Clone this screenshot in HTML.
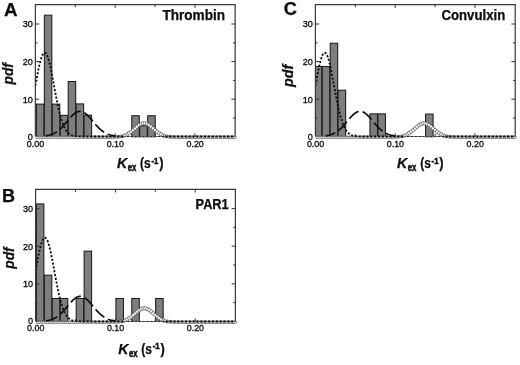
<!DOCTYPE html>
<html><head><meta charset="utf-8"><title>pdf of Kex</title>
<style>
html,body{margin:0;padding:0;background:#fff}
svg{display:block}
text{font-family:"Liberation Sans",sans-serif;fill:#0a0a0a;stroke:#0a0a0a;stroke-width:0.25}
.tk{font-size:9.6px;fill:#111;stroke:#111;stroke-width:0.35}
.b{font-weight:bold}
.bi{font-weight:bold;font-style:italic}
.bar{fill:#7e7e7e;stroke:#161616;stroke-width:1}
.fr{fill:none;stroke:#383838;stroke-width:1.2}
.t{stroke:#333;stroke-width:1;fill:none}
.dot{fill:none;stroke:#0c0c0c;stroke-width:1.8;stroke-dasharray:2.1 1.75}
.dash{fill:none;stroke:#0c0c0c;stroke-width:1.7;stroke-dasharray:12 4}
.c{fill:#fff;stroke:#333;stroke-width:0.55}
</style></head><body>
<svg width="520" height="365" viewBox="0 0 520 365">
<rect width="520" height="365" fill="#fff"/>
<filter id="soft" x="0" y="0" width="520" height="365" filterUnits="userSpaceOnUse"><feGaussianBlur stdDeviation="0.38"/></filter>
<g filter="url(#soft)">
<g>
<clipPath id="clipA"><rect x="35.35" y="4.60" width="201.80" height="136.20"/></clipPath>
<g clip-path="url(#clipA)">
<rect class="bar" x="36.40" y="104.09" width="7.5" height="32.71"/>
<rect class="bar" x="44.35" y="15.16" width="7.5" height="121.64"/>
<rect class="bar" x="52.30" y="104.09" width="7.5" height="32.71"/>
<rect class="bar" x="60.25" y="115.29" width="7.5" height="21.51"/>
<rect class="bar" x="68.20" y="81.53" width="7.5" height="55.27"/>
<rect class="bar" x="76.15" y="103.90" width="7.5" height="32.90"/>
<rect class="bar" x="84.10" y="115.18" width="7.5" height="21.62"/>
<rect class="bar" x="131.80" y="115.74" width="7.5" height="21.06"/>
<rect class="bar" x="139.75" y="125.75" width="7.5" height="11.05"/>
<rect class="bar" x="147.70" y="115.74" width="7.5" height="21.06"/>
<circle class="c" cx="35.35" cy="137.20" r="1.40"/><circle class="c" cx="37.34" cy="137.20" r="1.40"/><circle class="c" cx="39.34" cy="137.20" r="1.40"/><circle class="c" cx="41.34" cy="137.20" r="1.40"/><circle class="c" cx="43.33" cy="137.20" r="1.40"/><circle class="c" cx="45.33" cy="137.20" r="1.40"/><circle class="c" cx="47.32" cy="137.20" r="1.40"/><circle class="c" cx="49.32" cy="137.20" r="1.40"/><circle class="c" cx="51.31" cy="137.20" r="1.40"/><circle class="c" cx="53.30" cy="137.20" r="1.40"/><circle class="c" cx="55.30" cy="137.20" r="1.40"/><circle class="c" cx="57.30" cy="137.20" r="1.40"/><circle class="c" cx="59.29" cy="137.20" r="1.40"/><circle class="c" cx="61.29" cy="137.20" r="1.40"/><circle class="c" cx="63.28" cy="137.20" r="1.40"/><circle class="c" cx="65.28" cy="137.20" r="1.40"/><circle class="c" cx="67.27" cy="137.20" r="1.40"/><circle class="c" cx="69.27" cy="137.20" r="1.40"/><circle class="c" cx="71.26" cy="137.20" r="1.40"/><circle class="c" cx="73.25" cy="137.20" r="1.40"/><circle class="c" cx="75.25" cy="137.20" r="1.40"/><circle class="c" cx="77.25" cy="137.20" r="1.40"/><circle class="c" cx="79.24" cy="137.20" r="1.40"/><circle class="c" cx="81.24" cy="137.20" r="1.40"/><circle class="c" cx="83.23" cy="137.20" r="1.40"/><circle class="c" cx="85.22" cy="137.20" r="1.40"/><circle class="c" cx="87.22" cy="137.20" r="1.40"/><circle class="c" cx="89.22" cy="137.20" r="1.40"/><circle class="c" cx="91.21" cy="137.20" r="1.40"/><circle class="c" cx="93.20" cy="137.20" r="1.40"/><circle class="c" cx="95.20" cy="137.20" r="1.40"/><circle class="c" cx="97.19" cy="137.20" r="1.40"/><circle class="c" cx="99.19" cy="137.20" r="1.40"/><circle class="c" cx="101.19" cy="137.20" r="1.40"/><circle class="c" cx="103.18" cy="137.20" r="1.40"/><circle class="c" cx="105.18" cy="137.20" r="1.40"/><circle class="c" cx="107.17" cy="137.19" r="1.40"/><circle class="c" cx="109.16" cy="137.19" r="1.40"/><circle class="c" cx="111.16" cy="137.17" r="1.40"/><circle class="c" cx="113.16" cy="137.14" r="1.41"/><circle class="c" cx="115.15" cy="137.08" r="1.41"/><circle class="c" cx="117.15" cy="136.97" r="1.42"/><circle class="c" cx="119.14" cy="136.79" r="1.44"/><circle class="c" cx="121.13" cy="136.48" r="1.48"/><circle class="c" cx="123.13" cy="136.01" r="1.53"/><circle class="c" cx="125.12" cy="135.31" r="1.60"/><circle class="c" cx="127.12" cy="134.35" r="1.70"/><circle class="c" cx="129.12" cy="133.15" r="1.75"/><circle class="c" cx="131.11" cy="131.73" r="1.75"/><circle class="c" cx="133.10" cy="130.10" r="1.75"/><circle class="c" cx="135.10" cy="128.34" r="1.75"/><circle class="c" cx="137.09" cy="126.62" r="1.75"/><circle class="c" cx="139.09" cy="125.10" r="1.75"/><circle class="c" cx="141.09" cy="123.97" r="1.75"/><circle class="c" cx="143.08" cy="123.37" r="1.75"/><circle class="c" cx="145.08" cy="123.38" r="1.75"/><circle class="c" cx="147.07" cy="124.00" r="1.75"/><circle class="c" cx="149.07" cy="125.14" r="1.75"/><circle class="c" cx="151.06" cy="126.66" r="1.75"/><circle class="c" cx="153.06" cy="128.39" r="1.75"/><circle class="c" cx="155.05" cy="130.14" r="1.75"/><circle class="c" cx="157.04" cy="131.78" r="1.75"/><circle class="c" cx="159.04" cy="133.19" r="1.75"/><circle class="c" cx="161.03" cy="134.38" r="1.70"/><circle class="c" cx="163.03" cy="135.34" r="1.60"/><circle class="c" cx="165.03" cy="136.02" r="1.52"/><circle class="c" cx="167.02" cy="136.49" r="1.48"/><circle class="c" cx="169.02" cy="136.79" r="1.44"/><circle class="c" cx="171.01" cy="136.98" r="1.42"/><circle class="c" cx="173.00" cy="137.08" r="1.41"/><circle class="c" cx="175.00" cy="137.14" r="1.41"/><circle class="c" cx="176.99" cy="137.17" r="1.40"/><circle class="c" cx="178.99" cy="137.19" r="1.40"/><circle class="c" cx="180.98" cy="137.19" r="1.40"/><circle class="c" cx="182.98" cy="137.20" r="1.40"/><circle class="c" cx="184.97" cy="137.20" r="1.40"/><circle class="c" cx="186.97" cy="137.20" r="1.40"/><circle class="c" cx="188.97" cy="137.20" r="1.40"/><circle class="c" cx="190.96" cy="137.20" r="1.40"/><circle class="c" cx="192.96" cy="137.20" r="1.40"/><circle class="c" cx="194.95" cy="137.20" r="1.40"/><circle class="c" cx="196.94" cy="137.20" r="1.40"/><circle class="c" cx="198.94" cy="137.20" r="1.40"/><circle class="c" cx="200.94" cy="137.20" r="1.40"/><circle class="c" cx="202.93" cy="137.20" r="1.40"/><circle class="c" cx="204.92" cy="137.20" r="1.40"/><circle class="c" cx="206.92" cy="137.20" r="1.40"/><circle class="c" cx="208.91" cy="137.20" r="1.40"/><circle class="c" cx="210.91" cy="137.20" r="1.40"/><circle class="c" cx="212.91" cy="137.20" r="1.40"/><circle class="c" cx="214.90" cy="137.20" r="1.40"/><circle class="c" cx="216.90" cy="137.20" r="1.40"/><circle class="c" cx="218.89" cy="137.20" r="1.40"/><circle class="c" cx="220.88" cy="137.20" r="1.40"/><circle class="c" cx="222.88" cy="137.20" r="1.40"/><circle class="c" cx="224.88" cy="137.20" r="1.40"/><circle class="c" cx="226.87" cy="137.20" r="1.40"/><circle class="c" cx="228.86" cy="137.20" r="1.40"/><circle class="c" cx="230.86" cy="137.20" r="1.40"/><circle class="c" cx="232.85" cy="137.20" r="1.40"/><circle class="c" cx="234.85" cy="137.20" r="1.40"/>
<path d="M35.35 136.50H235.15" stroke="#7a7a7a" stroke-width="1" fill="none"/>
<polyline class="dash" stroke-dashoffset="0" points="45.72,135.82 46.52,135.70 47.32,135.56 48.12,135.39 48.92,135.21 49.71,135.00 50.51,134.76 51.31,134.50 52.11,134.20 52.91,133.87 53.70,133.50 54.50,133.09 55.30,132.64 56.10,132.16 56.90,131.63 57.69,131.05 58.49,130.43 59.29,129.77 60.09,129.07 60.89,128.32 61.68,127.54 62.48,126.71 63.28,125.85 64.08,124.97 64.88,124.05 65.67,123.12 66.47,122.17 67.27,121.22 68.07,120.27 68.87,119.32 69.66,118.39 70.46,117.48 71.26,116.61 72.06,115.78 72.86,114.99 73.65,114.27 74.45,113.61 75.25,113.02 76.05,112.51 76.85,112.08 77.64,111.75 78.44,111.50 79.24,111.36 80.04,111.31 80.84,111.36 81.63,111.50 82.43,111.75 83.23,112.08 84.03,112.51 84.83,113.02 85.62,113.61 86.42,114.27 87.22,114.99 88.02,115.78 88.82,116.61 89.61,117.48 90.41,118.39 91.21,119.32 92.01,120.27 92.81,121.22 93.60,122.17 94.40,123.12 95.20,124.05 96.00,124.97 96.80,125.85 97.59,126.71 98.39,127.54 99.19,128.32 99.99,129.07 100.79,129.77 101.58,130.43 102.38,131.05 103.18,131.63 103.98,132.16 104.78,132.64 105.57,133.09 106.37,133.50 107.17,133.87 107.97,134.20 108.77,134.50 109.56,134.76 110.36,135.00 111.16,135.21 111.96,135.39 112.76,135.56 113.55,135.70 114.35,135.82 115.15,135.93"/>
<polyline class="dot" points="35.35,85.64 36.15,81.31 36.95,77.04 37.74,72.90 38.54,68.98 39.34,65.33 40.14,62.03 40.94,59.15 41.73,56.74 42.53,54.86 43.33,53.53 44.13,52.80 44.93,52.68 45.72,53.17 46.52,54.26 47.32,55.92 48.12,58.13 48.92,60.83 49.71,63.97 50.51,67.48 51.31,71.31 52.11,75.36 52.91,79.59 53.70,83.91 54.50,88.25 55.30,92.56 56.10,96.77 56.90,100.84 57.69,104.73 58.49,108.40 59.29,111.82 60.09,114.99 60.89,117.89 61.68,120.51 62.48,122.87 63.28,124.96 64.08,126.80 64.88,128.41 65.67,129.80 66.47,130.99 67.27,132.00 68.07,132.86 68.87,133.57 69.66,134.16 70.46,134.64 71.26,135.04 72.06,135.36 72.86,135.62 73.65,135.82 74.45,135.98 75.25,136.11 76.05,136.20 76.85,136.28 77.64,136.33 78.44,136.38 79.24,136.41 80.04,136.44 80.84,136.45 81.63,136.47 82.43,136.48 83.23,136.48 84.03,136.49 84.83,136.49 85.62,136.49 86.42,136.50 87.22,136.50 88.02,136.50 88.82,136.50 89.61,136.50 90.41,136.50 91.21,136.50 92.01,136.50 92.81,136.50 93.60,136.50 94.40,136.50 95.20,136.50 96.00,136.50 96.80,136.50 97.59,136.50 98.39,136.50 99.19,136.50 99.99,136.50 100.79,136.50 101.58,136.50 102.38,136.50 103.18,136.50 103.98,136.50 104.78,136.50 105.57,136.50 106.37,136.50 107.17,136.50 107.97,136.50 108.77,136.50 109.56,136.50 110.36,136.50 111.16,136.50 111.96,136.50 112.76,136.50 113.55,136.50 114.35,136.50 115.15,136.50 115.95,136.50 116.75,136.50 117.54,136.50 118.34,136.50 119.14,136.50 119.94,136.50 120.74,136.50 121.53,136.50 122.33,136.50 123.13,136.50 123.93,136.50 124.73,136.50"/>
<polyline class="dot" style="stroke-width:1.1;stroke:#2a2a2a" stroke-dashoffset="1.6" points="124.73,136.50 125.52,136.50 126.32,136.50 127.12,136.50 127.92,136.50 128.72,136.50 129.51,136.50 130.31,136.50 131.11,136.50 131.91,136.50 132.71,136.50 133.50,136.50 134.30,136.50 135.10,136.50 135.90,136.50 136.70,136.50 137.49,136.50 138.29,136.50 139.09,136.50 139.89,136.50 140.69,136.50 141.48,136.50 142.28,136.50 143.08,136.50 143.88,136.50 144.68,136.50 145.47,136.50 146.27,136.50 147.07,136.50 147.87,136.50 148.67,136.50 149.46,136.50 150.26,136.50 151.06,136.50 151.86,136.50 152.66,136.50 153.45,136.50 154.25,136.50 155.05,136.50 155.85,136.50 156.65,136.50 157.44,136.50 158.24,136.50 159.04,136.50 159.84,136.50 160.64,136.50 161.43,136.50 162.23,136.50 163.03,136.50"/>
<polyline class="dot" stroke-dashoffset="1.4" points="163.03,136.50 163.83,136.50 164.63,136.50 165.42,136.50 166.22,136.50 167.02,136.50 167.82,136.50 168.62,136.50 169.41,136.50 170.21,136.50 171.01,136.50 171.81,136.50 172.61,136.50 173.40,136.50 174.20,136.50 175.00,136.50 175.80,136.50 176.60,136.50 177.39,136.50 178.19,136.50 178.99,136.50 179.79,136.50 180.59,136.50 181.38,136.50 182.18,136.50 182.98,136.50 183.78,136.50 184.58,136.50 185.37,136.50 186.17,136.50 186.97,136.50 187.77,136.50 188.57,136.50 189.36,136.50 190.16,136.50 190.96,136.50 191.76,136.50 192.56,136.50 193.35,136.50 194.15,136.50 194.95,136.50 195.75,136.50 196.55,136.50 197.34,136.50 198.14,136.50 198.94,136.50 199.74,136.50 200.54,136.50 201.33,136.50 202.13,136.50 202.93,136.50 203.73,136.50 204.53,136.50 205.32,136.50 206.12,136.50 206.92,136.50 207.72,136.50 208.52,136.50 209.31,136.50 210.11,136.50 210.91,136.50 211.71,136.50 212.51,136.50 213.30,136.50 214.10,136.50 214.90,136.50 215.70,136.50 216.50,136.50 217.29,136.50 218.09,136.50 218.89,136.50 219.69,136.50 220.49,136.50 221.28,136.50 222.08,136.50 222.88,136.50 223.68,136.50 224.48,136.50 225.27,136.50 226.07,136.50 226.87,136.50 227.67,136.50 228.47,136.50 229.26,136.50 230.06,136.50 230.86,136.50 231.66,136.50 232.46,136.50 233.25,136.50 234.05,136.50 234.85,136.50"/>
</g>
<path class="fr" d="M35.35 136.50V4.60H235.15V136.50"/>
<path class="t" d="M35.35 118.00h2.2M235.15 118.00h-2.2M35.35 99.20h3.8M235.15 99.20h-3.8M35.35 80.40h2.2M235.15 80.40h-2.2M35.35 61.60h3.8M235.15 61.60h-3.8M35.35 42.80h2.2M235.15 42.80h-2.2M35.35 24.00h3.8M235.15 24.00h-3.8M75.25 4.60v2.6M75.25 136.50v-2.6M115.15 4.60v3.2M115.15 136.50v-3.2M155.05 4.60v2.6M155.05 136.50v-2.6M194.95 4.60v3.2M194.95 136.50v-3.2"/>
<text class="tk" x="27.65" y="139.90" textLength="5.1" lengthAdjust="spacingAndGlyphs">0</text>
<text class="tk" x="22.65" y="102.60" textLength="10.1" lengthAdjust="spacingAndGlyphs">10</text>
<text class="tk" x="22.65" y="65.00" textLength="10.1" lengthAdjust="spacingAndGlyphs">20</text>
<text class="tk" x="22.65" y="27.40" textLength="10.1" lengthAdjust="spacingAndGlyphs">30</text>
<text class="tk" x="26.85" y="146.60" textLength="17.4" lengthAdjust="spacingAndGlyphs">0.00</text>
<text class="tk" x="106.65" y="146.60" textLength="17.4" lengthAdjust="spacingAndGlyphs">0.10</text>
<text class="tk" x="186.45" y="146.60" textLength="17.4" lengthAdjust="spacingAndGlyphs">0.20</text>
<text class="b" x="4.1" y="15.5" font-size="18.8">A</text>
<text class="b" x="162.50" y="20.20" font-size="14" textLength="62.5" lengthAdjust="spacingAndGlyphs">Thrombin</text>
<text class="bi" font-size="14.2" transform="translate(13.40 84.40) rotate(-90)" textLength="21.3" lengthAdjust="spacingAndGlyphs">pdf</text>
<text class="bi" x="117.00" y="167.70" font-size="14" textLength="10.2" lengthAdjust="spacingAndGlyphs">K</text>
<text class="b" x="127.70" y="170.80" font-size="10.2" style="stroke-width:0.5" textLength="8.6" lengthAdjust="spacingAndGlyphs">ex</text>
<text class="b" x="140.10" y="167.70" font-size="14" textLength="10.7" lengthAdjust="spacingAndGlyphs">(s</text>
<text class="b" x="151.50" y="163.50" font-size="8.2" style="stroke-width:0.5" textLength="6.9" lengthAdjust="spacingAndGlyphs">-1</text>
<text class="b" x="159.30" y="167.70" font-size="14" textLength="4.3" lengthAdjust="spacingAndGlyphs">)</text>
</g>
<g>
<clipPath id="clipB"><rect x="35.60" y="189.30" width="201.80" height="136.10"/></clipPath>
<g clip-path="url(#clipB)">
<rect class="bar" x="36.40" y="203.90" width="7.5" height="117.50"/>
<rect class="bar" x="44.35" y="275.15" width="7.5" height="46.25"/>
<rect class="bar" x="52.30" y="298.46" width="7.5" height="22.94"/>
<rect class="bar" x="60.25" y="298.46" width="7.5" height="22.94"/>
<rect class="bar" x="76.15" y="298.46" width="7.5" height="22.94"/>
<rect class="bar" x="84.10" y="251.09" width="7.5" height="70.31"/>
<rect class="bar" x="115.90" y="298.46" width="7.5" height="22.94"/>
<rect class="bar" x="131.80" y="298.46" width="7.5" height="22.94"/>
<rect class="bar" x="155.65" y="298.46" width="7.5" height="22.94"/>
<circle class="c" cx="35.60" cy="322.20" r="1.40"/><circle class="c" cx="37.59" cy="322.20" r="1.40"/><circle class="c" cx="39.59" cy="322.20" r="1.40"/><circle class="c" cx="41.59" cy="322.20" r="1.40"/><circle class="c" cx="43.58" cy="322.20" r="1.40"/><circle class="c" cx="45.58" cy="322.20" r="1.40"/><circle class="c" cx="47.57" cy="322.20" r="1.40"/><circle class="c" cx="49.57" cy="322.20" r="1.40"/><circle class="c" cx="51.56" cy="322.20" r="1.40"/><circle class="c" cx="53.55" cy="322.20" r="1.40"/><circle class="c" cx="55.55" cy="322.20" r="1.40"/><circle class="c" cx="57.55" cy="322.20" r="1.40"/><circle class="c" cx="59.54" cy="322.20" r="1.40"/><circle class="c" cx="61.54" cy="322.20" r="1.40"/><circle class="c" cx="63.53" cy="322.20" r="1.40"/><circle class="c" cx="65.53" cy="322.20" r="1.40"/><circle class="c" cx="67.52" cy="322.20" r="1.40"/><circle class="c" cx="69.52" cy="322.20" r="1.40"/><circle class="c" cx="71.51" cy="322.20" r="1.40"/><circle class="c" cx="73.50" cy="322.20" r="1.40"/><circle class="c" cx="75.50" cy="322.20" r="1.40"/><circle class="c" cx="77.50" cy="322.20" r="1.40"/><circle class="c" cx="79.49" cy="322.20" r="1.40"/><circle class="c" cx="81.49" cy="322.20" r="1.40"/><circle class="c" cx="83.48" cy="322.20" r="1.40"/><circle class="c" cx="85.47" cy="322.20" r="1.40"/><circle class="c" cx="87.47" cy="322.20" r="1.40"/><circle class="c" cx="89.47" cy="322.20" r="1.40"/><circle class="c" cx="91.46" cy="322.20" r="1.40"/><circle class="c" cx="93.45" cy="322.20" r="1.40"/><circle class="c" cx="95.45" cy="322.20" r="1.40"/><circle class="c" cx="97.44" cy="322.20" r="1.40"/><circle class="c" cx="99.44" cy="322.20" r="1.40"/><circle class="c" cx="101.44" cy="322.20" r="1.40"/><circle class="c" cx="103.43" cy="322.20" r="1.40"/><circle class="c" cx="105.43" cy="322.20" r="1.40"/><circle class="c" cx="107.42" cy="322.19" r="1.40"/><circle class="c" cx="109.41" cy="322.19" r="1.40"/><circle class="c" cx="111.41" cy="322.17" r="1.40"/><circle class="c" cx="113.41" cy="322.14" r="1.41"/><circle class="c" cx="115.40" cy="322.08" r="1.41"/><circle class="c" cx="117.40" cy="321.97" r="1.42"/><circle class="c" cx="119.39" cy="321.79" r="1.44"/><circle class="c" cx="121.38" cy="321.48" r="1.48"/><circle class="c" cx="123.38" cy="321.01" r="1.53"/><circle class="c" cx="125.38" cy="320.31" r="1.60"/><circle class="c" cx="127.37" cy="319.35" r="1.70"/><circle class="c" cx="129.37" cy="318.15" r="1.75"/><circle class="c" cx="131.36" cy="316.73" r="1.75"/><circle class="c" cx="133.35" cy="315.10" r="1.75"/><circle class="c" cx="135.35" cy="313.34" r="1.75"/><circle class="c" cx="137.34" cy="311.62" r="1.75"/><circle class="c" cx="139.34" cy="310.10" r="1.75"/><circle class="c" cx="141.34" cy="308.97" r="1.75"/><circle class="c" cx="143.33" cy="308.37" r="1.75"/><circle class="c" cx="145.33" cy="308.38" r="1.75"/><circle class="c" cx="147.32" cy="309.00" r="1.75"/><circle class="c" cx="149.32" cy="310.14" r="1.75"/><circle class="c" cx="151.31" cy="311.66" r="1.75"/><circle class="c" cx="153.31" cy="313.39" r="1.75"/><circle class="c" cx="155.30" cy="315.14" r="1.75"/><circle class="c" cx="157.29" cy="316.78" r="1.75"/><circle class="c" cx="159.29" cy="318.19" r="1.75"/><circle class="c" cx="161.28" cy="319.38" r="1.70"/><circle class="c" cx="163.28" cy="320.34" r="1.60"/><circle class="c" cx="165.28" cy="321.02" r="1.52"/><circle class="c" cx="167.27" cy="321.49" r="1.48"/><circle class="c" cx="169.27" cy="321.79" r="1.44"/><circle class="c" cx="171.26" cy="321.98" r="1.42"/><circle class="c" cx="173.25" cy="322.08" r="1.41"/><circle class="c" cx="175.25" cy="322.14" r="1.41"/><circle class="c" cx="177.24" cy="322.17" r="1.40"/><circle class="c" cx="179.24" cy="322.19" r="1.40"/><circle class="c" cx="181.23" cy="322.19" r="1.40"/><circle class="c" cx="183.23" cy="322.20" r="1.40"/><circle class="c" cx="185.22" cy="322.20" r="1.40"/><circle class="c" cx="187.22" cy="322.20" r="1.40"/><circle class="c" cx="189.22" cy="322.20" r="1.40"/><circle class="c" cx="191.21" cy="322.20" r="1.40"/><circle class="c" cx="193.21" cy="322.20" r="1.40"/><circle class="c" cx="195.20" cy="322.20" r="1.40"/><circle class="c" cx="197.19" cy="322.20" r="1.40"/><circle class="c" cx="199.19" cy="322.20" r="1.40"/><circle class="c" cx="201.19" cy="322.20" r="1.40"/><circle class="c" cx="203.18" cy="322.20" r="1.40"/><circle class="c" cx="205.17" cy="322.20" r="1.40"/><circle class="c" cx="207.17" cy="322.20" r="1.40"/><circle class="c" cx="209.16" cy="322.20" r="1.40"/><circle class="c" cx="211.16" cy="322.20" r="1.40"/><circle class="c" cx="213.16" cy="322.20" r="1.40"/><circle class="c" cx="215.15" cy="322.20" r="1.40"/><circle class="c" cx="217.15" cy="322.20" r="1.40"/><circle class="c" cx="219.14" cy="322.20" r="1.40"/><circle class="c" cx="221.13" cy="322.20" r="1.40"/><circle class="c" cx="223.13" cy="322.20" r="1.40"/><circle class="c" cx="225.12" cy="322.20" r="1.40"/><circle class="c" cx="227.12" cy="322.20" r="1.40"/><circle class="c" cx="229.11" cy="322.20" r="1.40"/><circle class="c" cx="231.11" cy="322.20" r="1.40"/><circle class="c" cx="233.10" cy="322.20" r="1.40"/><circle class="c" cx="235.10" cy="322.20" r="1.40"/>
<path d="M35.60 321.50H235.40" stroke="#7a7a7a" stroke-width="1" fill="none"/>
<polyline class="dash" stroke-dashoffset="0" points="45.97,320.82 46.77,320.70 47.57,320.56 48.37,320.39 49.17,320.21 49.96,320.00 50.76,319.76 51.56,319.50 52.36,319.20 53.16,318.87 53.95,318.50 54.75,318.09 55.55,317.64 56.35,317.16 57.15,316.63 57.94,316.05 58.74,315.43 59.54,314.77 60.34,314.07 61.14,313.32 61.93,312.54 62.73,311.71 63.53,310.85 64.33,309.97 65.13,309.05 65.92,308.12 66.72,307.17 67.52,306.22 68.32,305.27 69.12,304.32 69.91,303.39 70.71,302.48 71.51,301.61 72.31,300.78 73.11,299.99 73.90,299.27 74.70,298.61 75.50,298.02 76.30,297.51 77.10,297.08 77.89,296.75 78.69,296.50 79.49,296.36 80.29,296.31 81.09,296.36 81.88,296.50 82.68,296.75 83.48,297.08 84.28,297.51 85.08,298.02 85.87,298.61 86.67,299.27 87.47,299.99 88.27,300.78 89.07,301.61 89.86,302.48 90.66,303.39 91.46,304.32 92.26,305.27 93.06,306.22 93.85,307.17 94.65,308.12 95.45,309.05 96.25,309.97 97.05,310.85 97.84,311.71 98.64,312.54 99.44,313.32 100.24,314.07 101.04,314.77 101.83,315.43 102.63,316.05 103.43,316.63 104.23,317.16 105.03,317.64 105.82,318.09 106.62,318.50 107.42,318.87 108.22,319.20 109.02,319.50 109.81,319.76 110.61,320.00 111.41,320.21 112.21,320.39 113.01,320.56 113.80,320.70 114.60,320.82 115.40,320.93"/>
<polyline class="dot" points="35.60,270.64 36.40,266.31 37.20,262.04 37.99,257.90 38.79,253.98 39.59,250.33 40.39,247.03 41.19,244.15 41.98,241.74 42.78,239.86 43.58,238.53 44.38,237.80 45.18,237.68 45.97,238.17 46.77,239.26 47.57,240.92 48.37,243.13 49.17,245.83 49.96,248.97 50.76,252.48 51.56,256.31 52.36,260.36 53.16,264.59 53.95,268.91 54.75,273.25 55.55,277.56 56.35,281.77 57.15,285.84 57.94,289.73 58.74,293.40 59.54,296.82 60.34,299.99 61.14,302.89 61.93,305.51 62.73,307.87 63.53,309.96 64.33,311.80 65.13,313.41 65.92,314.80 66.72,315.99 67.52,317.00 68.32,317.86 69.12,318.57 69.91,319.16 70.71,319.64 71.51,320.04 72.31,320.36 73.11,320.62 73.90,320.82 74.70,320.98 75.50,321.11 76.30,321.20 77.10,321.28 77.89,321.33 78.69,321.38 79.49,321.41 80.29,321.44 81.09,321.45 81.88,321.47 82.68,321.48 83.48,321.48 84.28,321.49 85.08,321.49 85.87,321.49 86.67,321.50 87.47,321.50 88.27,321.50 89.07,321.50 89.86,321.50 90.66,321.50 91.46,321.50 92.26,321.50 93.06,321.50 93.85,321.50 94.65,321.50 95.45,321.50 96.25,321.50 97.05,321.50 97.84,321.50 98.64,321.50 99.44,321.50 100.24,321.50 101.04,321.50 101.83,321.50 102.63,321.50 103.43,321.50 104.23,321.50 105.03,321.50 105.82,321.50 106.62,321.50 107.42,321.50 108.22,321.50 109.02,321.50 109.81,321.50 110.61,321.50 111.41,321.50 112.21,321.50 113.01,321.50 113.80,321.50 114.60,321.50 115.40,321.50 116.20,321.50 117.00,321.50 117.79,321.50 118.59,321.50 119.39,321.50 120.19,321.50 120.99,321.50 121.78,321.50 122.58,321.50 123.38,321.50 124.18,321.50 124.98,321.50"/>
<polyline class="dot" style="stroke-width:1.1;stroke:#2a2a2a" stroke-dashoffset="1.6" points="124.98,321.50 125.77,321.50 126.57,321.50 127.37,321.50 128.17,321.50 128.97,321.50 129.76,321.50 130.56,321.50 131.36,321.50 132.16,321.50 132.96,321.50 133.75,321.50 134.55,321.50 135.35,321.50 136.15,321.50 136.95,321.50 137.74,321.50 138.54,321.50 139.34,321.50 140.14,321.50 140.94,321.50 141.73,321.50 142.53,321.50 143.33,321.50 144.13,321.50 144.93,321.50 145.72,321.50 146.52,321.50 147.32,321.50 148.12,321.50 148.92,321.50 149.71,321.50 150.51,321.50 151.31,321.50 152.11,321.50 152.91,321.50 153.70,321.50 154.50,321.50 155.30,321.50 156.10,321.50 156.90,321.50 157.69,321.50 158.49,321.50 159.29,321.50 160.09,321.50 160.89,321.50 161.68,321.50 162.48,321.50 163.28,321.50"/>
<polyline class="dot" stroke-dashoffset="1.4" points="163.28,321.50 164.08,321.50 164.88,321.50 165.67,321.50 166.47,321.50 167.27,321.50 168.07,321.50 168.87,321.50 169.66,321.50 170.46,321.50 171.26,321.50 172.06,321.50 172.86,321.50 173.65,321.50 174.45,321.50 175.25,321.50 176.05,321.50 176.85,321.50 177.64,321.50 178.44,321.50 179.24,321.50 180.04,321.50 180.84,321.50 181.63,321.50 182.43,321.50 183.23,321.50 184.03,321.50 184.83,321.50 185.62,321.50 186.42,321.50 187.22,321.50 188.02,321.50 188.82,321.50 189.61,321.50 190.41,321.50 191.21,321.50 192.01,321.50 192.81,321.50 193.60,321.50 194.40,321.50 195.20,321.50 196.00,321.50 196.80,321.50 197.59,321.50 198.39,321.50 199.19,321.50 199.99,321.50 200.79,321.50 201.58,321.50 202.38,321.50 203.18,321.50 203.98,321.50 204.78,321.50 205.57,321.50 206.37,321.50 207.17,321.50 207.97,321.50 208.77,321.50 209.56,321.50 210.36,321.50 211.16,321.50 211.96,321.50 212.76,321.50 213.55,321.50 214.35,321.50 215.15,321.50 215.95,321.50 216.75,321.50 217.54,321.50 218.34,321.50 219.14,321.50 219.94,321.50 220.74,321.50 221.53,321.50 222.33,321.50 223.13,321.50 223.93,321.50 224.73,321.50 225.52,321.50 226.32,321.50 227.12,321.50 227.92,321.50 228.72,321.50 229.51,321.50 230.31,321.50 231.11,321.50 231.91,321.50 232.71,321.50 233.50,321.50 234.30,321.50 235.10,321.50"/>
</g>
<path class="fr" d="M35.60 321.50V189.30H235.40V321.50"/>
<path class="t" d="M35.60 302.60h2.2M235.40 302.60h-2.2M35.60 283.80h3.8M235.40 283.80h-3.8M35.60 265.00h2.2M235.40 265.00h-2.2M35.60 246.20h3.8M235.40 246.20h-3.8M35.60 227.40h2.2M235.40 227.40h-2.2M35.60 208.60h3.8M235.40 208.60h-3.8M75.50 189.30v2.6M75.50 321.50v-2.6M115.40 189.30v3.2M115.40 321.50v-3.2M155.30 189.30v2.6M155.30 321.50v-2.6M195.20 189.30v3.2M195.20 321.50v-3.2"/>
<text class="tk" x="27.90" y="324.00" textLength="5.1" lengthAdjust="spacingAndGlyphs">0</text>
<text class="tk" x="22.90" y="287.20" textLength="10.1" lengthAdjust="spacingAndGlyphs">10</text>
<text class="tk" x="22.90" y="249.60" textLength="10.1" lengthAdjust="spacingAndGlyphs">20</text>
<text class="tk" x="22.90" y="212.00" textLength="10.1" lengthAdjust="spacingAndGlyphs">30</text>
<text class="tk" x="27.10" y="331.20" textLength="17.4" lengthAdjust="spacingAndGlyphs">0.00</text>
<text class="tk" x="106.90" y="331.20" textLength="17.4" lengthAdjust="spacingAndGlyphs">0.10</text>
<text class="tk" x="186.70" y="331.20" textLength="17.4" lengthAdjust="spacingAndGlyphs">0.20</text>
<text class="b" x="2.0" y="202.4" font-size="18">B</text>
<text class="b" x="195.60" y="209.00" font-size="14" textLength="33.1" lengthAdjust="spacingAndGlyphs">PAR1</text>
<text class="bi" font-size="14.2" transform="translate(13.70 268.70) rotate(-90)" textLength="21.3" lengthAdjust="spacingAndGlyphs">pdf</text>
<text class="bi" x="118.25" y="353.50" font-size="14" textLength="10.2" lengthAdjust="spacingAndGlyphs">K</text>
<text class="b" x="128.95" y="356.60" font-size="10.2" style="stroke-width:0.5" textLength="8.6" lengthAdjust="spacingAndGlyphs">ex</text>
<text class="b" x="141.35" y="353.50" font-size="14" textLength="10.7" lengthAdjust="spacingAndGlyphs">(s</text>
<text class="b" x="152.75" y="349.30" font-size="8.2" style="stroke-width:0.5" textLength="6.9" lengthAdjust="spacingAndGlyphs">-1</text>
<text class="b" x="160.55" y="353.50" font-size="14" textLength="4.3" lengthAdjust="spacingAndGlyphs">)</text>
</g>
<g>
<clipPath id="clipC"><rect x="315.40" y="4.70" width="201.80" height="136.10"/></clipPath>
<g clip-path="url(#clipC)">
<rect class="bar" x="314.30" y="66.49" width="7.5" height="70.31"/>
<rect class="bar" x="322.25" y="66.49" width="7.5" height="70.31"/>
<rect class="bar" x="330.20" y="43.18" width="7.5" height="93.62"/>
<rect class="bar" x="338.15" y="90.18" width="7.5" height="46.62"/>
<rect class="bar" x="369.95" y="113.86" width="7.5" height="22.94"/>
<rect class="bar" x="377.90" y="113.86" width="7.5" height="22.94"/>
<rect class="bar" x="425.60" y="114.05" width="7.5" height="22.75"/>
<circle class="c" cx="315.40" cy="137.20" r="1.40"/><circle class="c" cx="317.39" cy="137.20" r="1.40"/><circle class="c" cx="319.39" cy="137.20" r="1.40"/><circle class="c" cx="321.38" cy="137.20" r="1.40"/><circle class="c" cx="323.38" cy="137.20" r="1.40"/><circle class="c" cx="325.38" cy="137.20" r="1.40"/><circle class="c" cx="327.37" cy="137.20" r="1.40"/><circle class="c" cx="329.36" cy="137.20" r="1.40"/><circle class="c" cx="331.36" cy="137.20" r="1.40"/><circle class="c" cx="333.35" cy="137.20" r="1.40"/><circle class="c" cx="335.35" cy="137.20" r="1.40"/><circle class="c" cx="337.34" cy="137.20" r="1.40"/><circle class="c" cx="339.34" cy="137.20" r="1.40"/><circle class="c" cx="341.33" cy="137.20" r="1.40"/><circle class="c" cx="343.33" cy="137.20" r="1.40"/><circle class="c" cx="345.32" cy="137.20" r="1.40"/><circle class="c" cx="347.32" cy="137.20" r="1.40"/><circle class="c" cx="349.31" cy="137.20" r="1.40"/><circle class="c" cx="351.31" cy="137.20" r="1.40"/><circle class="c" cx="353.30" cy="137.20" r="1.40"/><circle class="c" cx="355.30" cy="137.20" r="1.40"/><circle class="c" cx="357.29" cy="137.20" r="1.40"/><circle class="c" cx="359.29" cy="137.20" r="1.40"/><circle class="c" cx="361.28" cy="137.20" r="1.40"/><circle class="c" cx="363.28" cy="137.20" r="1.40"/><circle class="c" cx="365.27" cy="137.20" r="1.40"/><circle class="c" cx="367.27" cy="137.20" r="1.40"/><circle class="c" cx="369.26" cy="137.20" r="1.40"/><circle class="c" cx="371.26" cy="137.20" r="1.40"/><circle class="c" cx="373.25" cy="137.20" r="1.40"/><circle class="c" cx="375.25" cy="137.20" r="1.40"/><circle class="c" cx="377.25" cy="137.20" r="1.40"/><circle class="c" cx="379.24" cy="137.20" r="1.40"/><circle class="c" cx="381.24" cy="137.20" r="1.40"/><circle class="c" cx="383.23" cy="137.20" r="1.40"/><circle class="c" cx="385.22" cy="137.20" r="1.40"/><circle class="c" cx="387.22" cy="137.19" r="1.40"/><circle class="c" cx="389.21" cy="137.19" r="1.40"/><circle class="c" cx="391.21" cy="137.17" r="1.40"/><circle class="c" cx="393.20" cy="137.14" r="1.41"/><circle class="c" cx="395.20" cy="137.08" r="1.41"/><circle class="c" cx="397.19" cy="136.97" r="1.42"/><circle class="c" cx="399.19" cy="136.79" r="1.44"/><circle class="c" cx="401.18" cy="136.48" r="1.48"/><circle class="c" cx="403.18" cy="136.01" r="1.53"/><circle class="c" cx="405.17" cy="135.31" r="1.60"/><circle class="c" cx="407.17" cy="134.35" r="1.70"/><circle class="c" cx="409.16" cy="133.15" r="1.75"/><circle class="c" cx="411.16" cy="131.73" r="1.75"/><circle class="c" cx="413.15" cy="130.10" r="1.75"/><circle class="c" cx="415.15" cy="128.34" r="1.75"/><circle class="c" cx="417.14" cy="126.62" r="1.75"/><circle class="c" cx="419.14" cy="125.10" r="1.75"/><circle class="c" cx="421.13" cy="123.97" r="1.75"/><circle class="c" cx="423.13" cy="123.37" r="1.75"/><circle class="c" cx="425.12" cy="123.38" r="1.75"/><circle class="c" cx="427.12" cy="124.00" r="1.75"/><circle class="c" cx="429.12" cy="125.14" r="1.75"/><circle class="c" cx="431.11" cy="126.66" r="1.75"/><circle class="c" cx="433.10" cy="128.39" r="1.75"/><circle class="c" cx="435.10" cy="130.14" r="1.75"/><circle class="c" cx="437.09" cy="131.78" r="1.75"/><circle class="c" cx="439.09" cy="133.19" r="1.75"/><circle class="c" cx="441.08" cy="134.38" r="1.70"/><circle class="c" cx="443.08" cy="135.34" r="1.60"/><circle class="c" cx="445.07" cy="136.02" r="1.52"/><circle class="c" cx="447.07" cy="136.49" r="1.48"/><circle class="c" cx="449.06" cy="136.79" r="1.44"/><circle class="c" cx="451.06" cy="136.98" r="1.42"/><circle class="c" cx="453.05" cy="137.08" r="1.41"/><circle class="c" cx="455.05" cy="137.14" r="1.41"/><circle class="c" cx="457.04" cy="137.17" r="1.40"/><circle class="c" cx="459.04" cy="137.19" r="1.40"/><circle class="c" cx="461.03" cy="137.19" r="1.40"/><circle class="c" cx="463.03" cy="137.20" r="1.40"/><circle class="c" cx="465.02" cy="137.20" r="1.40"/><circle class="c" cx="467.02" cy="137.20" r="1.40"/><circle class="c" cx="469.01" cy="137.20" r="1.40"/><circle class="c" cx="471.01" cy="137.20" r="1.40"/><circle class="c" cx="473.00" cy="137.20" r="1.40"/><circle class="c" cx="475.00" cy="137.20" r="1.40"/><circle class="c" cx="477.00" cy="137.20" r="1.40"/><circle class="c" cx="478.99" cy="137.20" r="1.40"/><circle class="c" cx="480.99" cy="137.20" r="1.40"/><circle class="c" cx="482.98" cy="137.20" r="1.40"/><circle class="c" cx="484.97" cy="137.20" r="1.40"/><circle class="c" cx="486.97" cy="137.20" r="1.40"/><circle class="c" cx="488.96" cy="137.20" r="1.40"/><circle class="c" cx="490.96" cy="137.20" r="1.40"/><circle class="c" cx="492.95" cy="137.20" r="1.40"/><circle class="c" cx="494.95" cy="137.20" r="1.40"/><circle class="c" cx="496.94" cy="137.20" r="1.40"/><circle class="c" cx="498.94" cy="137.20" r="1.40"/><circle class="c" cx="500.93" cy="137.20" r="1.40"/><circle class="c" cx="502.93" cy="137.20" r="1.40"/><circle class="c" cx="504.92" cy="137.20" r="1.40"/><circle class="c" cx="506.92" cy="137.20" r="1.40"/><circle class="c" cx="508.91" cy="137.20" r="1.40"/><circle class="c" cx="510.91" cy="137.20" r="1.40"/><circle class="c" cx="512.90" cy="137.20" r="1.40"/><circle class="c" cx="514.90" cy="137.20" r="1.40"/>
<path d="M315.40 136.50H515.20" stroke="#7a7a7a" stroke-width="1" fill="none"/>
<polyline class="dash" stroke-dashoffset="2" points="325.77,135.82 326.57,135.70 327.37,135.56 328.17,135.39 328.97,135.21 329.76,135.00 330.56,134.76 331.36,134.50 332.16,134.20 332.96,133.87 333.75,133.50 334.55,133.09 335.35,132.64 336.15,132.16 336.95,131.63 337.74,131.05 338.54,130.43 339.34,129.77 340.14,129.07 340.94,128.32 341.73,127.54 342.53,126.71 343.33,125.85 344.13,124.97 344.93,124.05 345.72,123.12 346.52,122.17 347.32,121.22 348.12,120.27 348.92,119.32 349.71,118.39 350.51,117.48 351.31,116.61 352.11,115.78 352.91,114.99 353.70,114.27 354.50,113.61 355.30,113.02 356.10,112.51 356.90,112.08 357.69,111.75 358.49,111.50 359.29,111.36 360.09,111.31 360.89,111.36 361.68,111.50 362.48,111.75 363.28,112.08 364.08,112.51 364.88,113.02 365.67,113.61 366.47,114.27 367.27,114.99 368.07,115.78 368.87,116.61 369.66,117.48 370.46,118.39 371.26,119.32 372.06,120.27 372.86,121.22 373.65,122.17 374.45,123.12 375.25,124.05 376.05,124.97 376.85,125.85 377.64,126.71 378.44,127.54 379.24,128.32 380.04,129.07 380.84,129.77 381.63,130.43 382.43,131.05 383.23,131.63 384.03,132.16 384.83,132.64 385.62,133.09 386.42,133.50 387.22,133.87 388.02,134.20 388.82,134.50 389.61,134.76 390.41,135.00 391.21,135.21 392.01,135.39 392.81,135.56 393.60,135.70 394.40,135.82 395.20,135.93"/>
<polyline class="dot" points="315.40,85.64 316.20,81.31 317.00,77.04 317.79,72.90 318.59,68.98 319.39,65.33 320.19,62.03 320.99,59.15 321.78,56.74 322.58,54.86 323.38,53.53 324.18,52.80 324.98,52.68 325.77,53.17 326.57,54.26 327.37,55.92 328.17,58.13 328.97,60.83 329.76,63.97 330.56,67.48 331.36,71.31 332.16,75.36 332.96,79.59 333.75,83.91 334.55,88.25 335.35,92.56 336.15,96.77 336.95,100.84 337.74,104.73 338.54,108.40 339.34,111.82 340.14,114.99 340.94,117.89 341.73,120.51 342.53,122.87 343.33,124.96 344.13,126.80 344.93,128.41 345.72,129.80 346.52,130.99 347.32,132.00 348.12,132.86 348.92,133.57 349.71,134.16 350.51,134.64 351.31,135.04 352.11,135.36 352.91,135.62 353.70,135.82 354.50,135.98 355.30,136.11 356.10,136.20 356.90,136.28 357.69,136.33 358.49,136.38 359.29,136.41 360.09,136.44 360.89,136.45 361.68,136.47 362.48,136.48 363.28,136.48 364.08,136.49 364.88,136.49 365.67,136.49 366.47,136.50 367.27,136.50 368.07,136.50 368.87,136.50 369.66,136.50 370.46,136.50 371.26,136.50 372.06,136.50 372.86,136.50 373.65,136.50 374.45,136.50 375.25,136.50 376.05,136.50 376.85,136.50 377.64,136.50 378.44,136.50 379.24,136.50 380.04,136.50 380.84,136.50 381.63,136.50 382.43,136.50 383.23,136.50 384.03,136.50 384.83,136.50 385.62,136.50 386.42,136.50 387.22,136.50 388.02,136.50 388.82,136.50 389.61,136.50 390.41,136.50 391.21,136.50 392.01,136.50 392.81,136.50 393.60,136.50 394.40,136.50 395.20,136.50 396.00,136.50 396.80,136.50 397.59,136.50 398.39,136.50 399.19,136.50 399.99,136.50 400.79,136.50 401.58,136.50 402.38,136.50 403.18,136.50 403.98,136.50 404.78,136.50"/>
<polyline class="dot" style="stroke-width:1.1;stroke:#2a2a2a" stroke-dashoffset="1.6" points="404.78,136.50 405.57,136.50 406.37,136.50 407.17,136.50 407.97,136.50 408.77,136.50 409.56,136.50 410.36,136.50 411.16,136.50 411.96,136.50 412.76,136.50 413.55,136.50 414.35,136.50 415.15,136.50 415.95,136.50 416.75,136.50 417.54,136.50 418.34,136.50 419.14,136.50 419.94,136.50 420.74,136.50 421.53,136.50 422.33,136.50 423.13,136.50 423.93,136.50 424.73,136.50 425.52,136.50 426.32,136.50 427.12,136.50 427.92,136.50 428.72,136.50 429.51,136.50 430.31,136.50 431.11,136.50 431.91,136.50 432.71,136.50 433.50,136.50 434.30,136.50 435.10,136.50 435.90,136.50 436.70,136.50 437.49,136.50 438.29,136.50 439.09,136.50 439.89,136.50 440.69,136.50 441.48,136.50 442.28,136.50 443.08,136.50"/>
<polyline class="dot" stroke-dashoffset="1.4" points="443.08,136.50 443.88,136.50 444.68,136.50 445.47,136.50 446.27,136.50 447.07,136.50 447.87,136.50 448.67,136.50 449.46,136.50 450.26,136.50 451.06,136.50 451.86,136.50 452.66,136.50 453.45,136.50 454.25,136.50 455.05,136.50 455.85,136.50 456.65,136.50 457.44,136.50 458.24,136.50 459.04,136.50 459.84,136.50 460.64,136.50 461.43,136.50 462.23,136.50 463.03,136.50 463.83,136.50 464.63,136.50 465.42,136.50 466.22,136.50 467.02,136.50 467.82,136.50 468.62,136.50 469.41,136.50 470.21,136.50 471.01,136.50 471.81,136.50 472.61,136.50 473.40,136.50 474.20,136.50 475.00,136.50 475.80,136.50 476.60,136.50 477.39,136.50 478.19,136.50 478.99,136.50 479.79,136.50 480.59,136.50 481.38,136.50 482.18,136.50 482.98,136.50 483.78,136.50 484.58,136.50 485.37,136.50 486.17,136.50 486.97,136.50 487.77,136.50 488.57,136.50 489.36,136.50 490.16,136.50 490.96,136.50 491.76,136.50 492.56,136.50 493.35,136.50 494.15,136.50 494.95,136.50 495.75,136.50 496.55,136.50 497.34,136.50 498.14,136.50 498.94,136.50 499.74,136.50 500.54,136.50 501.33,136.50 502.13,136.50 502.93,136.50 503.73,136.50 504.53,136.50 505.32,136.50 506.12,136.50 506.92,136.50 507.72,136.50 508.52,136.50 509.31,136.50 510.11,136.50 510.91,136.50 511.71,136.50 512.51,136.50 513.30,136.50 514.10,136.50 514.90,136.50"/>
</g>
<path class="fr" d="M315.40 136.50V4.70H515.20V136.50"/>
<path class="t" d="M315.40 118.00h2.2M515.20 118.00h-2.2M315.40 99.20h3.8M515.20 99.20h-3.8M315.40 80.40h2.2M515.20 80.40h-2.2M315.40 61.60h3.8M515.20 61.60h-3.8M315.40 42.80h2.2M515.20 42.80h-2.2M315.40 24.00h3.8M515.20 24.00h-3.8M355.30 4.70v2.6M355.30 136.50v-2.6M395.20 4.70v3.2M395.20 136.50v-3.2M435.10 4.70v2.6M435.10 136.50v-2.6M475.00 4.70v3.2M475.00 136.50v-3.2"/>
<text class="tk" x="307.70" y="139.90" textLength="5.1" lengthAdjust="spacingAndGlyphs">0</text>
<text class="tk" x="302.70" y="102.60" textLength="10.1" lengthAdjust="spacingAndGlyphs">10</text>
<text class="tk" x="302.70" y="65.00" textLength="10.1" lengthAdjust="spacingAndGlyphs">20</text>
<text class="tk" x="302.70" y="27.40" textLength="10.1" lengthAdjust="spacingAndGlyphs">30</text>
<text class="tk" x="306.90" y="146.60" textLength="17.4" lengthAdjust="spacingAndGlyphs">0.00</text>
<text class="tk" x="386.70" y="146.60" textLength="17.4" lengthAdjust="spacingAndGlyphs">0.10</text>
<text class="tk" x="466.50" y="146.60" textLength="17.4" lengthAdjust="spacingAndGlyphs">0.20</text>
<text class="b" x="283.8" y="14.9" font-size="18.2">C</text>
<text class="b" x="441.50" y="20.20" font-size="14" textLength="63.7" lengthAdjust="spacingAndGlyphs">Convulxin</text>
<text class="bi" font-size="14.2" transform="translate(293.10 86.90) rotate(-90)" textLength="22.1" lengthAdjust="spacingAndGlyphs">pdf</text>
<text class="bi" x="397.05" y="167.70" font-size="14" textLength="10.2" lengthAdjust="spacingAndGlyphs">K</text>
<text class="b" x="407.75" y="170.80" font-size="10.2" style="stroke-width:0.5" textLength="8.6" lengthAdjust="spacingAndGlyphs">ex</text>
<text class="b" x="420.15" y="167.70" font-size="14" textLength="10.7" lengthAdjust="spacingAndGlyphs">(s</text>
<text class="b" x="431.55" y="163.50" font-size="8.2" style="stroke-width:0.5" textLength="6.9" lengthAdjust="spacingAndGlyphs">-1</text>
<text class="b" x="439.35" y="167.70" font-size="14" textLength="4.3" lengthAdjust="spacingAndGlyphs">)</text>
</g>
</g>
</svg>
</body></html>
